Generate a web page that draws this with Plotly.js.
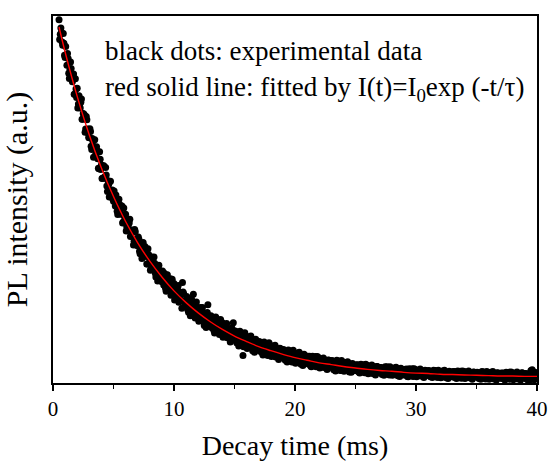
<!DOCTYPE html>
<html>
<head>
<meta charset="utf-8">
<script src="https://cdn.plot.ly/plotly-3.0.1.min.js"></script>
<style>html,body{margin:0;padding:0;background:#fff;}#chart{width:549px;height:461px;}</style>
</head>
<body>
<div id="chart"></div>
<script>
const decayTime = [
0.5,0.6,0.7,0.8,0.9,
1.0,1.1,1.2,1.3,1.4,1.5,1.6,1.7,1.8,1.9,
2.0,2.1,2.2,2.3,2.4,2.5,2.6,2.7,2.8,2.9,
3.0,3.1,3.2,3.3,3.4,3.5,3.6,3.7,3.8,3.9,
4.0,4.1,4.2,4.3,4.4,4.5,4.6,4.7,4.8,4.9,
5.0,5.1,5.2,5.3,5.4,5.5,5.6,5.7,5.8,5.9,
6.0,6.1,6.2,6.3,6.4,6.5,6.6,6.7,6.8,6.9,
7.0,7.1,7.2,7.3,7.4,7.5,7.6,7.7,7.8,7.9,
8.0,8.1,8.2,8.3,8.4,8.5,8.6,8.7,8.8,8.9,
9.0,9.1,9.2,9.3,9.4,9.5,9.6,9.7,9.8,9.9,
10.0,10.1,10.2,10.3,10.4,10.5,10.6,10.7,10.8,10.9,
11.0,11.1,11.2,11.3,11.4,11.5,11.6,11.7,11.8,11.9,
12.0,12.1,12.2,12.3,12.4,12.5,12.6,12.7,12.8,12.9,
13.0,13.1,13.2,13.3,13.4,13.5,13.6,13.7,13.8,13.9,
14.0,14.1,14.2,14.3,14.4,14.5,14.6,14.7,14.8,14.9,
15.0,15.1,15.2,15.3,15.4,15.5,15.6,15.7,15.8,15.9,
16.0,16.1,16.2,16.3,16.4,16.5,16.6,16.7,16.8,16.9,
17.0,17.1,17.2,17.3,17.4,17.5,17.6,17.7,17.8,17.9,
18.0,18.1,18.2,18.3,18.4,18.5,18.6,18.7,18.8,18.9,
19.0,19.1,19.2,19.3,19.4,19.5,19.6,19.7,19.8,19.9,
20.0,20.1,20.2,20.3,20.4,20.5,20.6,20.7,20.8,20.9,
21.0,21.1,21.2,21.3,21.4,21.5,21.6,21.7,21.8,21.9,
22.0,22.1,22.2,22.3,22.4,22.5,22.6,22.7,22.8,22.9,
23.0,23.1,23.2,23.3,23.4,23.5,23.6,23.7,23.8,23.9,
24.0,24.1,24.2,24.3,24.4,24.5,24.6,24.7,24.8,24.9,
25.0,25.1,25.2,25.3,25.4,25.5,25.6,25.7,25.8,25.9,
26.0,26.1,26.2,26.3,26.4,26.5,26.6,26.7,26.8,26.9,
27.0,27.1,27.2,27.3,27.4,27.5,27.6,27.7,27.8,27.9,
28.0,28.1,28.2,28.3,28.4,28.5,28.6,28.7,28.8,28.9,
29.0,29.1,29.2,29.3,29.4,29.5,29.6,29.7,29.8,29.9,
30.0,30.1,30.2,30.3,30.4,30.5,30.6,30.7,30.8,30.9,
31.0,31.1,31.2,31.3,31.4,31.5,31.6,31.7,31.8,31.9,
32.0,32.1,32.2,32.3,32.4,32.5,32.6,32.7,32.8,32.9,
33.0,33.1,33.2,33.3,33.4,33.5,33.6,33.7,33.8,33.9,
34.0,34.1,34.2,34.3,34.4,34.5,34.6,34.7,34.8,34.9,
35.0,35.1,35.2,35.3,35.4,35.5,35.6,35.7,35.8,35.9,
36.0,36.1,36.2,36.3,36.4,36.5,36.6,36.7,36.8,36.9,
37.0,37.1,37.2,37.3,37.4,37.5,37.6,37.7,37.8,37.9,
38.0,38.1,38.2,38.3,38.4,38.5,38.6,38.7,38.8,38.9,
39.0,39.1,39.2,39.3,39.4,39.5,39.6,39.7,39.8,39.9,
40.0
];
const intensity = [
99.0,95.0,95.5,92.0,92.6,
88.7,89.5,89.8,84.4,85.4,85.7,82.1,84.2,78.7,80.1,
80.3,76.0,75.8,76.5,71.9,73.4,73.0,69.2,71.7,68.1,
66.8,68.5,63.6,65.9,64.2,61.9,64.4,61.1,58.4,61.0,
59.4,55.8,59.2,55.8,56.7,52.2,54.1,54.9,51.2,52.6,
49.5,50.5,51.2,46.8,48.1,48.7,46.0,48.2,43.9,45.4,
46.0,42.5,42.6,43.6,39.9,41.5,41.6,38.6,41.2,38.4,
37.5,39.2,35.2,37.6,36.4,34.6,37.2,34.5,32.4,35.0,
33.9,31.0,34.3,31.5,32.6,28.9,30.8,31.7,28.7,30.2,
27.6,28.9,29.9,25.8,27.4,28.3,25.9,28.4,24.4,26.2,
27.1,23.9,24.3,25.4,22.0,23.9,24.3,27.4,24.3,21.8,
21.2,23.1,19.3,22.0,21.0,19.4,24.2,19.7,17.9,20.7,
19.8,17.1,20.6,18.0,19.2,15.7,17.9,18.9,21.3,17.8,
15.5,16.9,17.9,14.3,15.9,16.9,14.8,17.2,13.6,15.4,
16.4,13.6,14.0,15.3,12.3,14.1,14.5,12.1,14.8,16.4,
12.3,14.0,10.9,13.1,12.4,11.2,13.5,7.5,10.2,12.6,
11.8,9.8,12.6,10.5,11.6,8.8,10.7,11.6,9.3,10.7,
8.9,10.1,11.0,8.2,9.5,10.4,8.7,10.7,7.9,9.4,
10.2,8.1,8.4,9.5,7.1,8.6,9.0,7.1,9.3,7.6,
7.3,8.8,6.2,8.1,7.6,6.6,8.7,7.0,5.8,8.0,
7.4,5.6,8.2,6.4,7.4,5.1,6.7,7.5,5.6,6.9,
5.3,6.4,7.3,4.6,5.9,6.8,5.3,7.2,4.6,6.1,
6.8,4.9,5.3,6.2,4.2,5.6,5.9,4.4,6.2,4.8,
4.6,6.0,3.6,5.5,4.9,4.1,6.0,4.6,3.5,5.4,
4.9,3.5,5.6,4.1,5.0,3.0,4.4,5.1,3.5,4.6,
3.4,4.3,5.0,2.9,3.9,4.6,3.5,5.0,3.0,4.1,
4.8,3.2,3.5,4.3,2.6,3.8,4.1,2.8,4.5,3.2,
3.0,4.2,2.3,3.8,3.4,2.7,4.4,3.2,2.2,3.9,
3.5,2.3,4.1,2.9,3.7,2.0,3.1,3.8,2.4,3.3,
2.2,3.1,3.8,1.8,2.8,3.5,2.5,3.9,2.0,3.0,
3.6,2.3,2.6,3.3,1.9,2.9,3.1,2.0,3.4,2.4,
2.3,3.3,1.7,2.9,2.6,2.0,3.4,2.4,1.6,3.0,
2.7,1.6,3.3,2.2,2.9,1.4,2.4,3.0,1.8,2.7,
1.7,2.5,3.1,1.4,2.3,2.8,2.0,3.2,1.5,2.5,
3.1,1.8,2.1,2.8,1.4,2.3,2.6,1.5,2.9,1.9,
1.8,2.8,1.2,2.5,2.2,1.6,3.0,2.0,1.2,2.6,
2.3,1.2,2.9,1.8,2.5,1.0,2.1,2.7,1.5,2.3,
1.3,2.1,2.7,1.0,1.9,2.5,1.6,2.9,1.2,2.2,
2.8,1.5,1.8,2.5,1.1,2.1,2.4,1.3,2.7,1.7,
1.5,2.5,0.9,2.2,1.9,3.4,3.6,1.7,1.0,2.4,
1.8
];
// Second, interleaved set of samples
const decayTimeB = [
0.55,0.65,0.75,0.85,0.95,
1.05,1.15,1.25,1.35,1.45,1.55,1.65,1.75,1.85,1.95,
2.05,2.15,2.25,2.35,2.45,2.55,2.65,2.75,2.85,2.95,
3.05,3.15,3.25,3.35,3.45,3.55,3.65,3.75,3.85,3.95,
4.05,4.15,4.25,4.35,4.45,4.55,4.65,4.75,4.85,4.95,
5.05,5.15,5.25,5.35,5.45,5.55,5.65,5.75,5.85,5.95,
6.05,6.15,6.25,6.35,6.45,6.55,6.65,6.75,6.85,6.95,
7.05,7.15,7.25,7.35,7.45,7.55,7.65,7.75,7.85,7.95,
8.05,8.15,8.25,8.35,8.45,8.55,8.65,8.75,8.85,8.95,
9.05,9.15,9.25,9.35,9.45,9.55,9.65,9.75,9.85,9.95,
10.05,10.15,10.25,10.35,10.45,10.55,10.65,10.75,10.85,10.95,
11.05,11.15,11.25,11.35,11.45,11.55,11.65,11.75,11.85,11.95,
12.05,12.15,12.25,12.35,12.45,12.55,12.65,12.75,12.85,12.95,
13.05,13.15,13.25,13.35,13.45,13.55,13.65,13.75,13.85,13.95,
14.05,14.15,14.25,14.35,14.45,14.55,14.65,14.75,14.85,14.95,
15.05,15.15,15.25,15.35,15.45,15.55,15.65,15.75,15.85,15.95,
16.05,16.15,16.25,16.35,16.45,16.55,16.65,16.75,16.85,16.95,
17.05,17.15,17.25,17.35,17.45,17.55,17.65,17.75,17.85,17.95,
18.05,18.15,18.25,18.35,18.45,18.55,18.65,18.75,18.85,18.95,
19.05,19.15,19.25,19.35,19.45,19.55,19.65,19.75,19.85,19.95,
20.05,20.15,20.25,20.35,20.45,20.55,20.65,20.75,20.85,20.95,
21.05,21.15,21.25,21.35,21.45,21.55,21.65,21.75,21.85,21.95,
22.05,22.15,22.25,22.35,22.45,22.55,22.65,22.75,22.85,22.95,
23.05,23.15,23.25,23.35,23.45,23.55,23.65,23.75,23.85,23.95,
24.05,24.15,24.25,24.35,24.45,24.55,24.65,24.75,24.85,24.95,
25.05,25.15,25.25,25.35,25.45,25.55,25.65,25.75,25.85,25.95,
26.05,26.15,26.25,26.35,26.45,26.55,26.65,26.75,26.85,26.95,
27.05,27.15,27.25,27.35,27.45,27.55,27.65,27.75,27.85,27.95,
28.05,28.15,28.25,28.35,28.45,28.55,28.65,28.75,28.85,28.95,
29.05,29.15,29.25,29.35,29.45,29.55,29.65,29.75,29.85,29.95,
30.05,30.15,30.25,30.35,30.45,30.55,30.65,30.75,30.85,30.95,
31.05,31.15,31.25,31.35,31.45,31.55,31.65,31.75,31.85,31.95,
32.05,32.15,32.25,32.35,32.45,32.55,32.65,32.75,32.85,32.95,
33.05,33.15,33.25,33.35,33.45,33.55,33.65,33.75,33.85,33.95,
34.05,34.15,34.25,34.35,34.45,34.55,34.65,34.75,34.85,34.95,
35.05,35.15,35.25,35.35,35.45,35.55,35.65,35.75,35.85,35.95,
36.05,36.15,36.25,36.35,36.45,36.55,36.65,36.75,36.85,36.95,
37.05,37.15,37.25,37.35,37.45,37.55,37.65,37.75,37.85,37.95,
38.05,38.15,38.25,38.35,38.45,38.55,38.65,38.75,38.85,38.95,
39.05,39.15,39.25,39.35,39.45,39.55,39.65,39.75,39.85,39.95
];
const intensityB = [
93.6,96.7,92.9,95.2,89.3,
91.7,86.6,88.4,83.0,87.5,83.3,83.8,78.7,82.9,77.8,
74.9,78.3,74.9,77.4,71.9,73.2,68.3,72.6,69.2,66.9,
69.3,64.5,66.6,61.5,66.3,62.4,63.3,58.5,63.0,58.2,
55.7,59.1,56.1,58.7,53.7,55.1,50.7,55.0,52.0,50.1,
52.3,48.2,50.1,45.9,50.1,46.8,47.7,43.6,47.7,43.6,
41.4,44.7,42.0,44.6,40.1,41.6,37.6,41.8,39.1,37.5,
39.8,35.9,38.0,33.9,38.3,35.2,36.3,32.4,36.6,32.7,
30.7,34.2,31.6,34.3,30.0,31.7,27.8,32.1,29.6,28.1,
30.5,26.7,28.9,25.0,29.5,26.5,27.7,23.9,28.3,24.5,
22.6,26.2,23.8,26.6,22.3,24.1,20.4,24.8,22.4,21.0,
23.6,19.9,22.2,18.3,22.9,20.1,21.4,17.7,22.1,18.4,
16.8,20.1,18.0,20.6,16.8,18.5,15.1,19.2,17.0,15.8,
18.3,15.0,17.2,13.6,18.0,15.3,16.5,13.2,17.3,14.0,
12.5,15.6,13.8,16.2,12.7,14.3,11.2,15.0,13.1,12.0,
14.2,11.3,13.3,10.1,14.1,11.8,12.9,9.9,13.7,10.7,
9.4,12.3,10.6,12.8,9.7,11.2,8.4,11.9,10.1,9.2,
11.3,8.6,10.5,7.6,11.2,9.1,10.2,7.5,11.0,8.3,
7.2,9.8,8.2,10.3,7.5,8.8,6.4,9.5,8.0,7.2,
9.1,6.6,8.3,5.7,9.0,7.1,8.1,5.7,8.9,6.5,
5.4,7.8,6.4,8.4,5.7,7.0,4.8,7.8,6.3,5.6,
7.3,5.1,6.6,4.4,7.3,5.6,6.6,4.4,7.2,5.1,
4.1,6.3,5.1,6.8,4.5,5.7,3.7,6.3,5.1,4.4,
6.1,4.0,5.5,3.3,6.2,4.5,5.5,3.4,6.1,4.0,
3.2,5.3,4.1,5.8,3.6,4.7,2.9,5.3,4.2,3.5,
5.0,3.3,4.5,2.7,5.1,3.8,4.6,2.8,5.1,3.3,
2.5,4.5,3.3,4.9,2.9,3.9,2.2,4.5,3.5,2.9,
4.2,2.7,3.9,2.1,4.4,3.2,3.9,2.3,4.4,2.8,
2.1,3.9,2.9,4.3,2.5,3.4,1.8,4.0,3.0,2.4,
3.7,2.2,3.4,1.7,3.9,2.7,3.4,1.8,3.9,2.3,
1.7,3.4,2.5,3.8,2.1,3.0,1.5,3.5,2.6,2.2,
3.4,1.9,3.0,1.5,3.5,2.4,3.1,1.6,3.5,2.1,
1.4,3.1,2.2,3.5,1.8,2.7,1.2,3.2,2.3,1.9,
3.1,1.6,2.7,1.2,3.3,2.2,2.8,1.3,3.3,1.9,
1.2,2.9,2.0,3.3,1.6,2.5,1.0,3.0,2.1,1.7,
2.9,1.4,2.5,1.0,3.1,2.0,2.6,1.1,3.1,1.7,
1.0,2.7,1.8,3.1,1.4,2.3,0.8,2.8,1.9,1.5,
2.7,1.2,2.3,0.8,2.9,1.8,2.5,1.0,3.0,1.6,
0.9,2.6,1.7,3.0,1.3,2.2,0.8,2.8,1.9,1.5,
2.6,1.1,2.2,0.7,2.8,1.7,2.4,0.9,2.9,1.5
];
// Fitted curve (red line)
const fitTime = [0.5,1,2,3,4,5,6,7,8,9,10,11,12,13,14,15,16,17,18,19,20,21,22,23,24,25,26,27,28,29,30,31,32,33,34,35,36,37,38,39,40];
const fitIntensity = [97.0,90.2,78.1,67.6,58.6,50.8,44.0,38.2,33.2,28.9,25.1,21.9,19.1,16.7,14.6,12.8,11.3,9.9,8.8,7.8,6.9,6.2,5.5,5.0,4.5,4.1,3.7,3.4,3.2,2.9,2.7,2.6,2.4,2.3,2.2,2.1,2.0,1.9,1.9,1.8,1.8];
// Axis labels / texts
const xTickVals = [0,10,20,30,40];
const xTitle = 'Decay time (ms)';
const yTitle = 'PL intensity (a.u.)';
const noteLine1 = 'black dots: experimental data';
const noteLine2 = 'red solid line: fitted by I(t)=I<sub>0</sub>exp (-t/τ)';

const serif = "'Liberation Serif', 'Times New Roman', Times, serif";

const traces = [
  {
    x: decayTime.concat(decayTimeB), y: intensity.concat(intensityB),
    type: 'scatter', mode: 'markers',
    marker: {color: '#000000', size: 7, line: {width: 0}},
    hoverinfo: 'skip', showlegend: false
  },
  {
    x: fitTime, y: fitIntensity, type: 'scatter', mode: 'lines',
    line: {color: '#ff0000', width: 1.4, shape: 'spline', smoothing: 1},
    hoverinfo: 'skip', showlegend: false
  }
];

const layout = {
  width: 549, height: 461,
  margin: {l: 53, r: 12, t: 16, b: 78},
  paper_bgcolor: '#ffffff', plot_bgcolor: '#ffffff',
  font: {family: serif, color: '#000000'},
  xaxis: {
    range: [0, 40], tickvals: xTickVals, ticks: 'outside', ticklen: 6, tickwidth: 1.5, tickcolor: '#000',
    minor: {dtick: 5, ticks: 'outside', ticklen: 4, tickwidth: 1.5, tickcolor: '#000'},
    showline: true, linecolor: '#000', linewidth: 2, mirror: true,
    showgrid: false, zeroline: false, automargin: false,
    tickfont: {family: serif, size: 21, color: '#000'},
    title: {text: xTitle, font: {family: serif, size: 28, color: '#000'}}
  },
  yaxis: {
    range: [0, 100], showticklabels: false, ticks: '',
    showline: true, linecolor: '#000', linewidth: 2, mirror: true,
    showgrid: false, zeroline: false, automargin: false,
    title: {text: yTitle, font: {family: serif, size: 30, color: '#000'}}
  },
  annotations: [
    {xref: 'paper', yref: 'paper', x: 0.103, y: 0.905, xanchor: 'left', yanchor: 'middle', showarrow: false,
     text: noteLine1, font: {family: serif, size: 27, color: '#000'}},
    {xref: 'paper', yref: 'paper', x: 0.103, y: 0.80, xanchor: 'left', yanchor: 'middle', showarrow: false,
     text: noteLine2, font: {family: serif, size: 27, color: '#000'}}
  ]
};

Plotly.newPlot('chart', traces, layout, {displayModeBar: false, staticPlot: true});
</script>
</body>
</html>
